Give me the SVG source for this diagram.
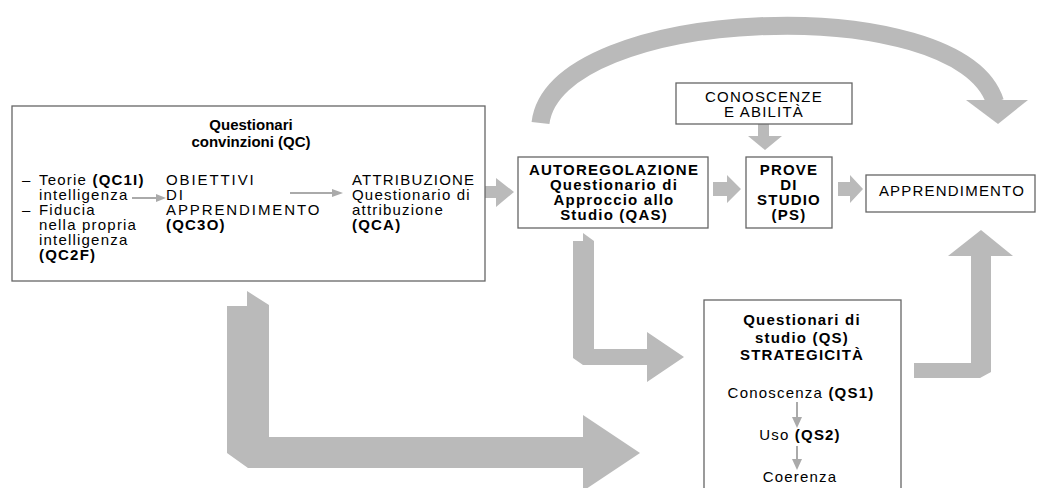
<svg xmlns="http://www.w3.org/2000/svg" width="1040" height="488" viewBox="0 0 1040 488">
<defs>
<style>
text{font-family:"Liberation Sans",Arial,sans-serif;font-size:15px;fill:#000;letter-spacing:1.2px}
.b{font-weight:bold}
.c{text-anchor:middle}
.t{letter-spacing:0}
.w{letter-spacing:1.9px}
.box{fill:#fff;stroke:#666;stroke-width:1.3}
.ga{fill:#bababa;stroke:none}
.thin{stroke:#aaa;stroke-width:2;fill:none}
</style>
</defs>
<rect width="1040" height="488" fill="#fff"/>
<g id="connectors">
<path d="M540.5 123 C555 5 960 -10 995 102" fill="none" stroke="#bababa" stroke-width="18"/>
<polygon class="ga" points="966,100 1028,100 998,124"/>
<polygon class="ga" points="485,186 496,186 496,178 514,192 496,207 496,198 485,198"/>
<polygon class="ga" points="713,182 727,182 727,175 741,189 727,203 727,196 713,196"/>
<polygon class="ga" points="838,182 850,182 850,175 863,189 850,203 850,196 838,196"/>
<polygon class="ga" points="758,124 769,124 769,136 782,136 765,150 748,136 758,136"/>
<polygon class="ga" points="227,306 247,306 247,291 269,305 269,437 583,437 583,415 640,453 583,491 583,468 248,468 227,453"/>
<polygon class="ga" points="573,241 583,241 583,233 594,241 594,349 647,349 647,332 684,357 647,382 647,365 583,365 573,358"/>
<polygon class="ga" points="914,363 971,363 971,256 948,256 981,230 1013,256 991,256 991,372 980,378 914,378"/>
</g>
<g id="qc">
<rect class="box" x="12" y="106" width="473" height="175"/>
<text class="b c t" x="251" y="130">Questionari</text>
<text class="b c t" x="251" y="147">convinzioni (QC)</text>
<text x="22" y="185">–</text>
<text x="39" y="185">Teorie <tspan class="b">(QC1I)</tspan></text>
<text x="39" y="200">intelligenza</text>
<text x="22" y="215">–</text>
<text x="39" y="215">Fiducia</text>
<text x="39" y="230">nella propria</text>
<text x="39" y="245">intelligenza</text>
<text class="b" x="39" y="260">(QC2F)</text>
<line class="thin" x1="132" y1="198" x2="158" y2="198"/>
<polygon points="156,194 166,198 156,202" fill="#aaa"/>
<text class="w" x="166" y="185">OBIETTIVI</text>
<text class="w" x="166" y="200">DI</text>
<text class="w" x="166" y="215">APPRENDIMENTO</text>
<text class="b" x="166" y="230">(QC3O)</text>
<line class="thin" x1="290" y1="193" x2="334" y2="193"/>
<polygon points="332,189 343,193 332,197" fill="#aaa"/>
<text x="352" y="185">ATTRIBUZIONE</text>
<text x="352" y="200">Questionario di</text>
<text x="352" y="215">attribuzione</text>
<text class="b" x="352" y="230">(QCA)</text>
</g>
<g id="conoscenze">
<rect class="box" x="676" y="83" width="176" height="41"/>
<text class="c" x="764" y="102">CONOSCENZE</text>
<text class="c" x="764" y="117">E ABILITÀ</text>
</g>
<g id="autoregolazione">
<rect class="box" x="518" y="157" width="190" height="71"/>
<text class="b c" x="614" y="175">AUTOREGOLAZIONE</text>
<text class="b c" x="614" y="190">Questionario di</text>
<text class="b c" x="614" y="205">Approccio allo</text>
<text class="b c" x="614" y="220">Studio (QAS)</text>
</g>
<g id="prove">
<rect class="box" x="746" y="157" width="86" height="71"/>
<text class="b c" x="789" y="175">PROVE</text>
<text class="b c" x="789" y="190">DI</text>
<text class="b c" x="789" y="205">STUDIO</text>
<text class="b c" x="789" y="220">(PS)</text>
</g>
<g id="apprendimento">
<rect class="box" x="866" y="175" width="169" height="37"/>
<text class="c" x="952" y="196">APPRENDIMENTO</text>
</g>
<g id="qs">
<rect class="box" x="704" y="300" width="197" height="200"/>
<text class="b c" x="802" y="325">Questionari di</text>
<text class="b c" x="802" y="343">studio (QS)</text>
<text class="b c" x="802" y="360">STRATEGICITÀ</text>
<text class="c" x="801" y="398">Conoscenza <tspan class="b">(QS1)</tspan></text>
<line class="thin" x1="797" y1="402" x2="797" y2="419"/>
<polygon points="792,417 802,417 797,428" fill="#aaa"/>
<text class="c" x="800" y="440">Uso <tspan class="b">(QS2)</tspan></text>
<line class="thin" x1="797" y1="446" x2="797" y2="461"/>
<polygon points="792,459 802,459 797,470" fill="#aaa"/>
<text class="c" x="800" y="482">Coerenza</text>
</g>
</svg>
